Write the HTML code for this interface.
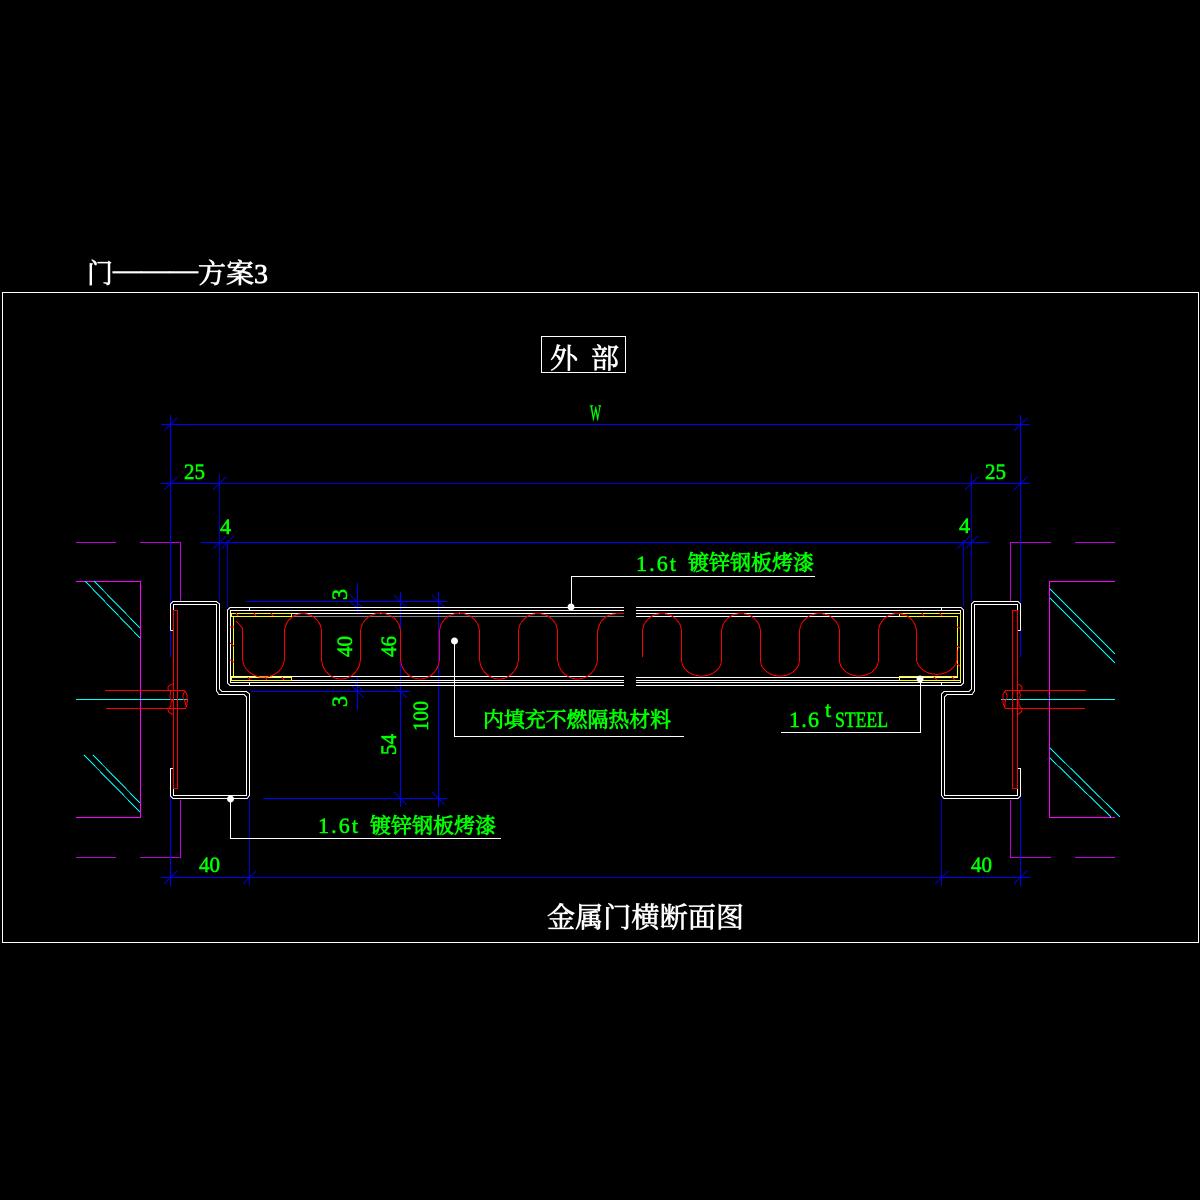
<!DOCTYPE html>
<html><head><meta charset="utf-8"><style>
html,body{margin:0;padding:0;background:#000;width:1200px;height:1200px;overflow:hidden}
svg{display:block}
text{font-family:"Liberation Serif","Noto Serif CJK SC",serif}
.g text{fill:#0f0;stroke:#0f0;stroke-width:.6}
.w{fill:#fff;stroke:#fff;stroke-width:.7}
.g text.cj{stroke:#0f0;stroke-width:.8;font-size:21px}
</style></head><body>
<svg width="1200" height="1200" viewBox="0 0 1200 1200" xmlns="http://www.w3.org/2000/svg">
<rect width="1200" height="1200" fill="#000"/>
<g fill="none" shape-rendering="crispEdges">
<!-- outer frame -->
<rect x="2.5" y="292.5" width="1196" height="650" stroke="#fff"/>
<rect x="541.5" y="336.5" width="84" height="36" stroke="#fff"/>

<!-- magenta -->
<g stroke="#c000e0">
<path d="M76 542.5H116M140 542.5H180.5V602M180.5 800V857.5H140M116 857.5H76"/>
<path d="M1115 542.5H1075M1051 542.5H1010.5V602M1010.5 800V857.5H1051M1075 857.5H1115"/>
</g>
<g stroke="#f0f">
<path d="M76 581.5H140.5V817.5H76"/>
<path d="M1115 581.5H1049.5V817.5H1115"/>
</g>
<!-- cyan -->
<g stroke="#0ff">
<path d="M85 581L140 638M94 581L140 628M84 755L140 812M93 755L140 803"/>
<path d="M1050 589L1115 654M1050 598L1115 663M1050 748L1120 817M1050 758L1111 817"/>
<path d="M76 699.5H188M1001 699.5H1115"/>
</g>
<!-- blue dims -->
<g stroke="#00f">
<path d="M170.5 415V657M170.5 797V886M1020.5 415V657M1020.5 797V886"/>
<path d="M161 424.5H1030"/>
<path d="M201 542.5H989"/>
<path d="M161 483.5H219M971 483.5H1030"/>
<path d="M161 877.5H249M941 877.5H1030"/>
<path d="M400.5 592V807M438.5 592V807"/>
<path d="M263 798.5H447"/>
<path d="M246 601.5H447M346 607.5H366M337 685.5H366M251 691.5H410"/>
<path d="M357.5 583V613M357.5 677V710"/>
</g>
<g stroke="#0000c8">
<path d="M219.5 474V602M227.5 540V607M963.5 540V606M971.5 474V602"/>
<path d="M219 483.5H971"/>
<path d="M249 877.5H941"/>
<path d="M249.5 798V886M941.5 798V886"/>
<!-- ticks -->
<path d="M164 431l13 -13M1014 431l13 -13"/>
<path d="M164 490l13 -13M213 490l13 -13M965 490l13 -13M1014 490l13 -13"/>
<path d="M213 549l13 -13M221 549l13 -13M957 549l13 -13M965 549l13 -13"/>
<path d="M164 884l13 -13M243 884l13 -13M935 884l13 -13M1014 884l13 -13"/>
<path d="M350 595l13 13M350 601l13 13M394 595l13 13M432 595l13 13"/>
<path d="M351 679l13 13M351 685l13 13M394 685l13 13"/>
<path d="M394 792l13 13M432 792l13 13"/>
</g>

<!-- white steel profile -->
<g stroke="#fff">
<path d="M170.5 630.5V604L173 601.5H216.5L219.5 604V689L222 691.5H246.5L249.5 694V795.5L247 798.5H173L170.5 796V768.5H174"/>
<path d="M170.5 630.5H173.5V604.5H216.5V691L219 694.5H244L246.5 697V795.5H173.5V768.5"/>
<path d="M1020.5 630.5V604L1018 601.5H974L971.5 604V689L969 691.5H944L941.5 694V795.5L944 798.5H1018L1020.5 796V768.5H1017"/>
<path d="M1020.5 630.5H1017.5V604.5H974.5V691L972 694.5H947L944.5 697V795.5H1017.5V768.5"/>
<!-- door panel -->
<path d="M624 607.5H230L227.5 610V683L230 685.5H624"/>
<path d="M624 610.5H230.5V682.5H624"/>
<path d="M231 613.5H624M231 676.5H624M636 607.5H961L963.5 610V683L961 685.5H636"/>
<path d="M636 610.5H960.5V682.5H636M636 613.5H960M636 616.5H958M636 677.5H958M636 680.5H960"/>
<path d="M231 680.5H624"/>
<path d="M249.5 607V610M249.5 683V686M941.5 607V610M941.5 683V686"/>
<!-- leaders -->
<path d="M571.5 607V576.5H815"/>
<path d="M454.5 641V736.5H684"/>
<path d="M920.5 679V732.5H781"/>
<path d="M230.5 799V838.5H501"/>
</g>
<path d="M292 616.5H624" stroke="#808080"/>
<!-- yellow -->
<g stroke="#ff0">
<path d="M231.5 613.5H291.5V616.5H231.5ZM233.5 616.5V677M231.5 677.5H291.5V680.5H231.5Z"/>
<path d="M899.5 613.5H960.5V680.5H899.5V676.5H957.5V616.5H899.5Z"/>
</g>
<!-- red -->
<g stroke="#f00">
<path d="M105 690.5H185M106 708.5H186M1005 690.5H1086M1005 708.5H1085"/>
<path d="M173.5 610.5H177.5V788.5H173.5ZM1012.5 610.5H1017.5V788.5H1012.5Z"/>
<path d="M236 621L242.5 628V658A20.75 19 0 0 0 284.5 658V632A18.5 18.5 0 0 1 321.5 632V658A19.5 21 0 0 0 360.5 658V632A19.7 18.5 0 0 1 400.5 632V658A19.5 21 0 0 0 439.5 658V632A19.7 18.5 0 0 1 479.5 632V658A19.5 21 0 0 0 518.5 658V632A19.5 18.5 0 0 1 557.5 632V658A20 21 0 0 0 597.5 658V632Q600 614 618 613.5H624"/>
<path d="M642.5 657V632A19.5 18.5 0 0 1 681.5 632V660A20 16 0 0 0 721.5 660V632A19.5 18.5 0 0 1 760.5 632V660A19.5 16 0 0 0 799.5 660V632A20 18.5 0 0 1 839.5 632V660A19.5 16 0 0 0 878.5 660V632A19 18.5 0 0 1 916.5 632V660A20.5 17 0 0 0 957 660V650"/>
<!-- bolt scallops -->
<path d="M173 684Q168 685 168 688Q168 691 171 691Q170 695 170 697Q170 700 173 700Q170 703 171 706Q168 708 168 710Q169 714 173 714"/>
<path d="M185 691Q188 695 187 698Q188 702 186 708M185 691Q182 696 183 698Q186 702 186 708"/>
<path d="M1017 684Q1022 685 1022 688Q1022 691 1019 691Q1021 695 1020 697Q1020 700 1017 700Q1020 703 1019 706Q1022 708 1022 710Q1021 714 1017 714"/>
<path d="M1005 691Q1002 695 1003 698Q1002 702 1005 708M1005 691Q1008 696 1007 698Q1004 702 1005 708"/>
<!-- ticks on edges -->
<path d="M236 613L238 616M254 613L256 616M271 613L273 616M230 627L234 627M230 643L234 646M230 660L234 662M248 677L250 680M265 677L267 680M282 677L284 680"/>
<path d="M922 613L924 616M940 613L942 616M957 627L960 628M957 646L960 648M957 664L960 666M934 677L937 680M952 677L955 680"/>
</g>
</g>
<!-- dots -->
<g fill="#fff">
<circle cx="571" cy="607" r="3.5"/><circle cx="454.5" cy="641" r="3.5"/><circle cx="920" cy="679" r="3.5"/><circle cx="230.5" cy="799" r="3.5"/>
</g>
<!-- white text -->
<text class="w" x="87" y="283" font-size="27" textLength="26" lengthAdjust="spacingAndGlyphs">门</text>
<text class="w" x="113" y="279" font-size="28" textLength="85" lengthAdjust="spacingAndGlyphs">———</text>
<text class="w" x="198" y="283" font-size="27" textLength="70" lengthAdjust="spacingAndGlyphs">方案3</text>
<text class="w" x="550" y="368" font-size="28">外</text>
<text class="w" x="591" y="368" font-size="28">部</text>
<text class="w" x="547" y="927" font-size="28" textLength="197" lengthAdjust="spacingAndGlyphs">金属门横断面图</text>
<!-- green text -->
<g class="g" font-size="22">
<text x="590" y="420" textLength="11" lengthAdjust="spacingAndGlyphs">W</text>
<text x="184" y="479" textLength="21" lengthAdjust="spacingAndGlyphs">25</text>
<text x="985" y="479" textLength="21" lengthAdjust="spacingAndGlyphs">25</text>
<text x="220" y="534">4</text>
<text x="959" y="533">4</text>
<text x="199" y="872" textLength="21" lengthAdjust="spacingAndGlyphs">40</text>
<text x="971" y="872" textLength="21" lengthAdjust="spacingAndGlyphs">40</text>
<text transform="translate(347,600) rotate(-90)">3</text>
<text transform="translate(352,657) rotate(-90)" textLength="21" lengthAdjust="spacingAndGlyphs">40</text>
<text transform="translate(396,657) rotate(-90)" textLength="21" lengthAdjust="spacingAndGlyphs">46</text>
<text transform="translate(347,707) rotate(-90)">3</text>
<text transform="translate(428,731) rotate(-90)" textLength="30" lengthAdjust="spacingAndGlyphs">100</text>
<text transform="translate(396,755) rotate(-90)" textLength="21" lengthAdjust="spacingAndGlyphs">54</text>

<text x="636" y="571" textLength="40" lengthAdjust="spacing">1.6t</text>
<text class="cj" x="688" y="570" textLength="126" lengthAdjust="spacingAndGlyphs">镀锌钢板烤漆</text>
<text x="318" y="833" textLength="40" lengthAdjust="spacing">1.6t</text>
<text class="cj" x="370" y="833" textLength="126" lengthAdjust="spacingAndGlyphs">镀锌钢板烤漆</text>
<text class="cj" x="483" y="727" textLength="188" lengthAdjust="spacingAndGlyphs">内填充不燃隔热材料</text>
<text x="789" y="727" textLength="30" lengthAdjust="spacing">1.6</text>
<text x="825" y="717">t</text>
<text x="835" y="727" textLength="53" lengthAdjust="spacingAndGlyphs">STEEL</text>
</g>
</svg>
</body></html>
